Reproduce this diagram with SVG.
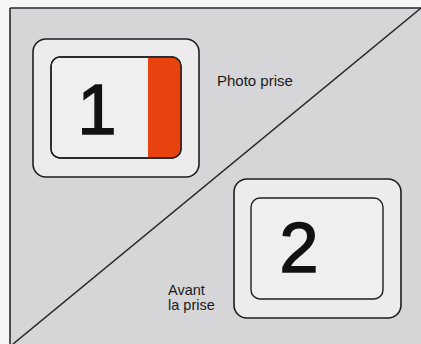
<svg xmlns="http://www.w3.org/2000/svg" width="421" height="344" viewBox="0 0 421 344">
  <style>
    .outer { fill: #ececed; stroke: #1e1e1e; stroke-width: 1.6; }
    .inner { fill: #efefef; stroke: #1e1e1e; stroke-width: 1.4; }
    .num { font-family: "Liberation Sans", Arial, sans-serif; font-size: 70px; fill: #111; stroke: #111; stroke-width: 1.6; text-anchor: middle; }
    .lbl { font-family: "Liberation Sans", Arial, sans-serif; font-size: 14.5px; fill: #1a1a1a; }
    .lbl-big { font-size: 15px; }
    .frame { stroke: #2a2a2a; stroke-width: 1.6; fill: none; }
  </style>
  <rect x="0" y="0" width="421" height="344" fill="#f6f6f6"/>
  <rect x="10" y="8" width="411" height="336" fill="#d6d6d8"/>
  <g id="connectors">
    <line class="frame" x1="10" y1="8" x2="421" y2="8"/>
    <line class="frame" x1="10" y1="8" x2="10" y2="344"/>
    <line class="frame" x1="421" y1="8" x2="13" y2="344"/>
  </g>
  <g id="box1">
    <rect class="outer" x="33" y="39" width="166" height="138" rx="13"/>
    <rect class="inner" x="51" y="57" width="130" height="101" rx="9"/>
    <path d="M148 57 H172 A9 9 0 0 1 181 66 V149 A9 9 0 0 1 172 158 H148 Z" fill="#e8430f"/>
    <rect x="51" y="57" width="130" height="101" rx="9" fill="none" stroke="#1e1e1e" stroke-width="1.4"/>
    <text class="num" x="97" y="134">1</text>
  </g>
  <g id="label1">
    <text class="lbl lbl-big" x="217" y="86">Photo prise</text>
  </g>
  <g id="box2">
    <rect class="outer" x="234" y="179" width="167" height="139" rx="13"/>
    <rect class="inner" x="251" y="198" width="132" height="101" rx="9"/>
    <text class="num" x="299" y="272">2</text>
  </g>
  <g id="label2">
    <text class="lbl" x="168" y="295">Avant</text>
    <text class="lbl" x="168" y="310">la prise</text>
  </g>
</svg>
